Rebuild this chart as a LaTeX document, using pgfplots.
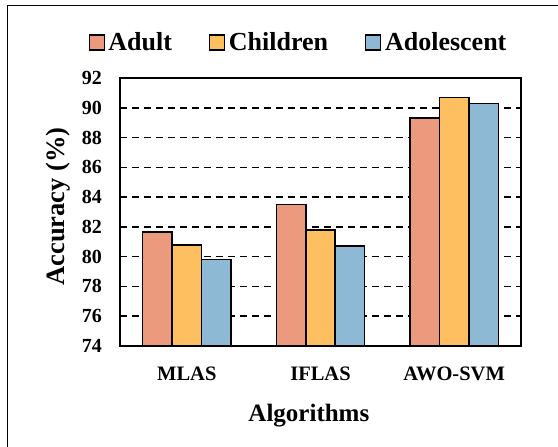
\documentclass[border=0pt]{standalone}
\usepackage{fontspec}
\setmainfont{Liberation Serif}
\usepackage{pgfplots}
\pgfplotsset{compat=1.18}
\definecolor{cA}{RGB}{236,154,126}
\definecolor{cC}{RGB}{254,191,96}
\definecolor{cD}{RGB}{141,185,212}
\begin{document}
\begin{tikzpicture}[x=1pt,y=1pt]
\useasboundingbox (0,0) rectangle (558,447);
\draw[line width=1.3pt] (7.2,0) -- (7.2,441.7) -- (558,441.7);
\begin{axis}[
  at={(120pt,101pt)}, anchor=south west,
  width=401pt, height=268pt, scale only axis,
  ybar=0pt, bar width=0.22,
  xmin=-0.5, xmax=2.5, ymin=74, ymax=92,
  ytick={74,76,...,92},
  xtick={0,1,2}, xticklabels={MLAS,IFLAS,AWO-SVM},
  major x tick style={draw=none},
  ytick pos=left, tick align=inside,
  major tick length=6pt,
  major y tick style={line width=1.5pt, black},
  axis line style={line width=2pt, black},
  ymajorgrids,
  major grid style={line width=1.5pt, black, dash pattern=on 7pt off 5pt},
  /pgf/number format/assume math mode=true,
  yticklabel style={font=\bfseries\fontsize{20}{20}\selectfont, anchor=east, inner sep=0pt, xshift=-18pt},
  xticklabel style={font=\bfseries\fontsize{20.5}{20.5}\selectfont, anchor=north, inner sep=0pt, yshift=-20.7pt},
  xlabel={Algorithms},
  xlabel style={font=\bfseries\fontsize{25}{25}\selectfont, at={(axis description cs:0.471,0)}, anchor=north, inner sep=0pt, yshift=-58pt},
  ylabel={Accuracy (\%)},
  ylabel style={font=\bfseries\fontsize{26.5}{26.5}\selectfont, at={(axis description cs:-0.1845,0.5205)}, anchor=north, inner sep=0pt},
  legend columns=-1,
  legend image code/.code={\draw[#1, line width=1.3pt] (0pt,-7.5pt) rectangle (15pt,7.5pt);},
  legend style={at={(axis description cs:0.4426,1.1325)}, anchor=center, draw=none, fill=none, inner sep=0pt,
    font=\bfseries\fontsize{26}{26}\selectfont, nodes={inner sep=0pt},
    /tikz/every odd column/.append style={column sep=3.6pt},
    /tikz/every even column/.append style={column sep=37pt}},
]
\addplot[fill=cA, draw=black, line width=1.5pt] coordinates {(0,81.65) (1,83.5) (2,89.3)};
\addplot[fill=cC, draw=black, line width=1.5pt] coordinates {(0,80.8) (1,81.8) (2,90.7)};
\addplot[fill=cD, draw=black, line width=1.5pt] coordinates {(0,79.8) (1,80.7) (2,90.3)};
\legend{Adult,Children,Adolescent}
\end{axis}
\end{tikzpicture}
\end{document}
